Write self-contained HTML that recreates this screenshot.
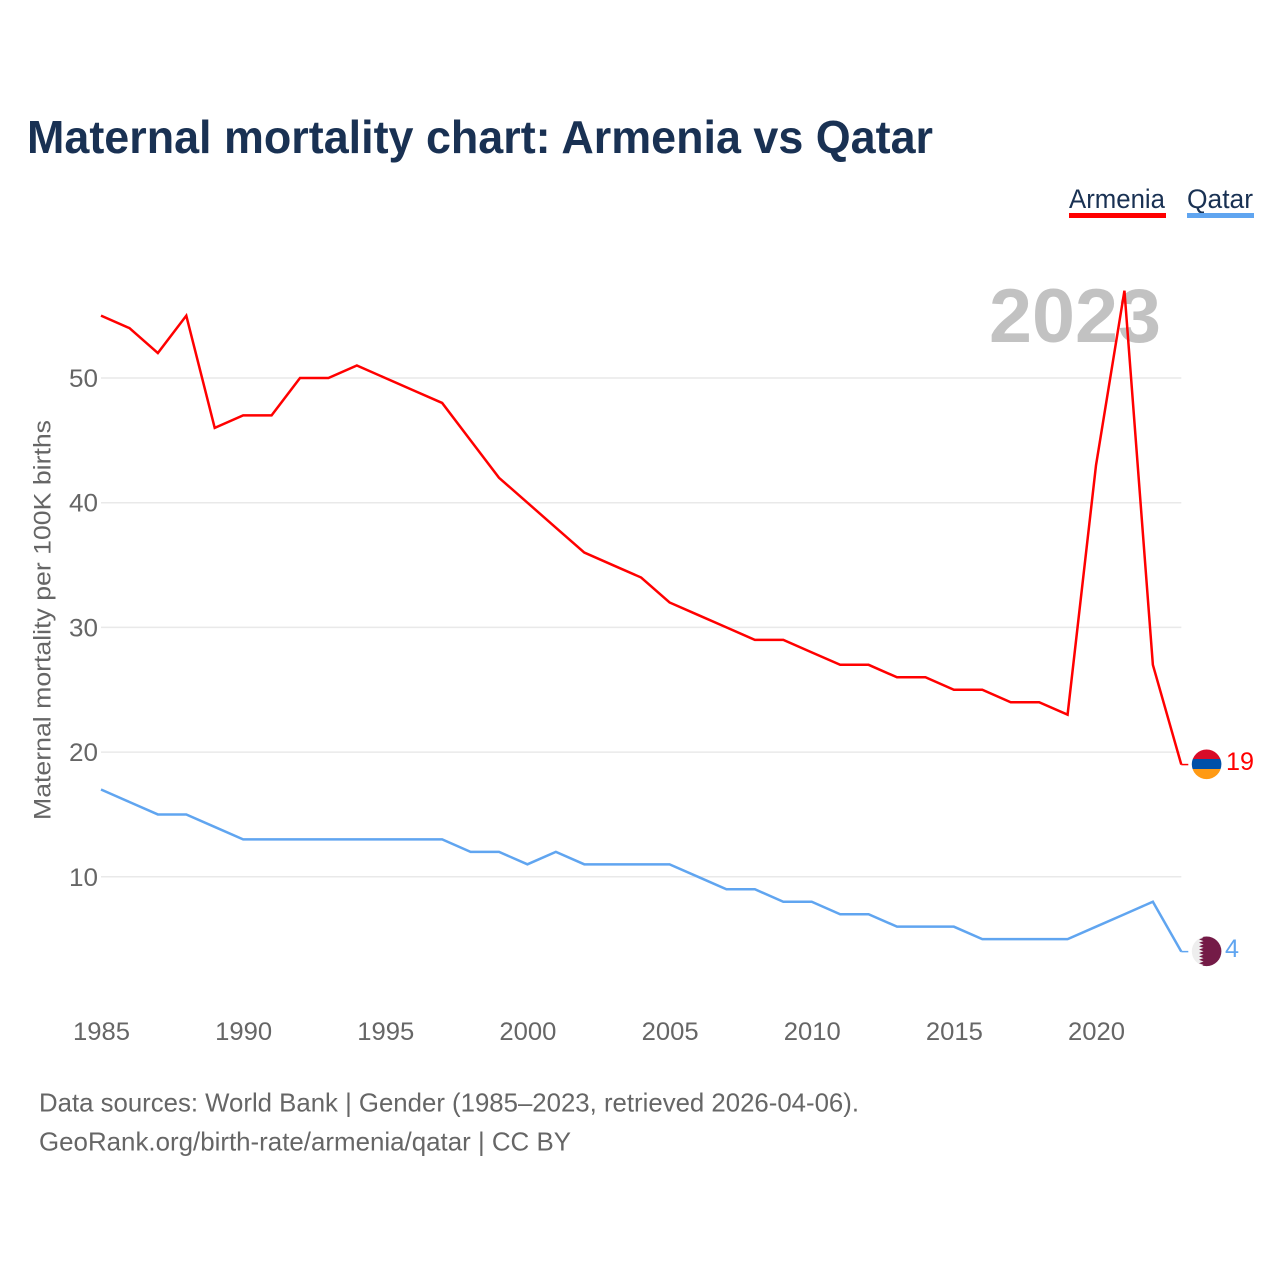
<!DOCTYPE html>
<html lang="en">
<head>
<meta charset="utf-8">
<title>Maternal mortality chart: Armenia vs Qatar</title>
<style>
html,body{margin:0;padding:0;background:#fff;width:1280px;height:1280px;overflow:hidden}
svg{display:block}
text{font-family:"Liberation Sans",sans-serif}
</style>
</head>
<body>
<svg id="chart" xmlns="http://www.w3.org/2000/svg" width="1280" height="1280" viewBox="0 0 1280 1280">
  <defs>
    <clipPath id="flag-clip-am"><circle cx="1206.6" cy="764.3" r="14.8"></circle></clipPath>
    <clipPath id="flag-clip-qa"><circle cx="1206.6" cy="951.3" r="14.8"></circle></clipPath>
  </defs>
  <text x="27" y="153" font-size="46" font-weight="700" fill="#193153" textLength="906" lengthAdjust="spacingAndGlyphs">Maternal mortality chart: Armenia vs Qatar</text>

  <g>
    <g>
      <text x="1069" y="208" font-size="27" fill="#193153" textLength="96" lengthAdjust="spacingAndGlyphs">Armenia</text>
      <rect x="1069" y="213" width="97" height="5" fill="#ff0000"></rect>
    </g>
    <g>
      <text x="1187" y="208" font-size="27" fill="#193153" textLength="66" lengthAdjust="spacingAndGlyphs">Qatar</text>
      <rect x="1187" y="213" width="67" height="5" fill="#60a5f0"></rect>
    </g>
  </g>

  <text x="989" y="342" font-size="76" font-weight="700" fill="#c2c2c2" textLength="172" lengthAdjust="spacingAndGlyphs">2023</text>

  <g id="grid"></g>
  <g id="y-axis"></g>
  <g id="x-axis"></g>
  <text transform="translate(50.5 820) rotate(-90)" font-size="24.5" fill="#666666" textLength="400" lengthAdjust="spacingAndGlyphs">Maternal mortality per 100K births</text>
  <g id="series"></g>

  <g clip-path="url(#flag-clip-am)">
    <rect x="1191" y="749" width="31" height="10" fill="#d90c28"></rect>
    <rect x="1191" y="759" width="31" height="10" fill="#0050a8"></rect>
    <rect x="1191" y="769" width="31" height="11" fill="#ff9a14"></rect>
  </g>
  <g clip-path="url(#flag-clip-qa)">
    <rect x="1191" y="936" width="31" height="31" fill="#eeeeee"></rect>
    <polygon fill="#741b47" points="1222,936 1199,936 1203.5,937.7 1199,939.4 1203.5,941.1 1199,942.8 1203.5,944.5 1199,946.2 1203.5,947.9 1199,949.6 1203.5,951.3 1199,953 1203.5,954.7 1199,956.4 1203.5,958.1 1199,959.8 1203.5,961.5 1199,963.2 1203.5,964.9 1199,967 1222,967"></polygon>
  </g>

  <text x="1226" y="770" font-size="25" fill="#ff0000" textLength="28" lengthAdjust="spacingAndGlyphs">19</text>
  <text x="1225" y="957" font-size="25" fill="#60a5f0" textLength="14" lengthAdjust="spacingAndGlyphs">4</text>

  <text x="39" y="1111.5" font-size="26" fill="#666666" textLength="820" lengthAdjust="spacingAndGlyphs">Data sources: World Bank | Gender (1985–2023, retrieved 2026-04-06).</text>
  <text x="39" y="1150.5" font-size="26" fill="#666666" textLength="532" lengthAdjust="spacingAndGlyphs">GeoRank.org/birth-rate/armenia/qatar | CC BY</text>
</svg>
<script>
const years = [1985,1986,1987,1988,1989,1990,1991,1992,1993,1994,1995,1996,1997,1998,1999,2000,2001,2002,2003,2004,2005,2006,2007,2008,2009,2010,2011,2012,2013,2014,2015,2016,2017,2018,2019,2020,2021,2022,2023];
const armeniaValues = [55,54,52,55,46,47,47,50,50,51,50,49,48,45,42,40,38,36,35,34,32,31,30,29,29,28,27,27,26,26,25,25,24,24,23,43,57,27,19];
const qatarValues = [17,16,15,15,14,13,13,13,13,13,13,13,13,12,12,11,12,11,11,11,11,10,9,9,8,8,7,7,6,6,6,5,5,5,5,6,7,8,4];
const yTicks = [10,20,30,40,50];
const xTicks = [1985,1990,1995,2000,2005,2010,2015,2020];

const NS = 'http://www.w3.org/2000/svg';
const xLeft = 101, xRight = 1181.3, yearMin = 1985, yearMax = 2023;
const y10 = 876.8, y50 = 378;
function xScale(year){ return xLeft + (year - yearMin) * (xRight - xLeft) / (yearMax - yearMin); }
function yScale(v){ return y10 + (v - 10) * (y50 - y10) / 40; }

const grid = document.getElementById('grid');
const yAxis = document.getElementById('y-axis');
const xAxis = document.getElementById('x-axis');
const series = document.getElementById('series');

yTicks.forEach(function(t){
  const line = document.createElementNS(NS, 'line');
  
  
  line.setAttribute('x1', xLeft);
  line.setAttribute('x2', xRight);
  line.setAttribute('y1', yScale(t));
  line.setAttribute('y2', yScale(t));
  line.setAttribute('stroke', '#e9e9e9');
  line.setAttribute('stroke-width', '1.5');
  grid.appendChild(line);

  const label = document.createElementNS(NS, 'text');
  
  
  label.setAttribute('x', 69);
  label.setAttribute('y', yScale(t) + 9);
  label.setAttribute('font-size', '25');
  label.setAttribute('fill', '#666666');
  label.setAttribute('textLength', '29');
  label.setAttribute('lengthAdjust', 'spacingAndGlyphs');
  label.textContent = t;
  yAxis.appendChild(label);
});

xTicks.forEach(function(t){
  const label = document.createElementNS(NS, 'text');
  
  
  label.setAttribute('x', xScale(t) - 28);
  label.setAttribute('y', 1040);
  label.setAttribute('font-size', '25');
  label.setAttribute('fill', '#666666');
  label.setAttribute('textLength', '57');
  label.setAttribute('lengthAdjust', 'spacingAndGlyphs');
  label.textContent = t;
  xAxis.appendChild(label);
});

function pointsFor(values){
  return values.map(function(v, i){ return xScale(years[i]).toFixed(2) + ',' + yScale(v).toFixed(2); }).join(' ');
}

const armeniaLine = document.createElementNS(NS, 'polyline');


armeniaLine.setAttribute('points', pointsFor(armeniaValues));
armeniaLine.setAttribute('fill', 'none');
armeniaLine.setAttribute('stroke', '#ff0000');
armeniaLine.setAttribute('stroke-width', '2.5');
series.appendChild(armeniaLine);

const qatarLine = document.createElementNS(NS, 'polyline');


qatarLine.setAttribute('points', pointsFor(qatarValues));
qatarLine.setAttribute('fill', 'none');
qatarLine.setAttribute('stroke', '#60a5f0');
qatarLine.setAttribute('stroke-width', '2.5');
series.appendChild(qatarLine);

const armeniaConnector = document.createElementNS(NS, 'line');


armeniaConnector.setAttribute('x1', xRight);
armeniaConnector.setAttribute('x2', xRight + 7);
armeniaConnector.setAttribute('y1', yScale(armeniaValues[armeniaValues.length - 1]));
armeniaConnector.setAttribute('y2', yScale(armeniaValues[armeniaValues.length - 1]));
armeniaConnector.setAttribute('stroke', '#ff0000');
armeniaConnector.setAttribute('stroke-width', '1.5');
series.appendChild(armeniaConnector);

const qatarConnector = document.createElementNS(NS, 'line');


qatarConnector.setAttribute('x1', xRight);
qatarConnector.setAttribute('x2', xRight + 7);
qatarConnector.setAttribute('y1', yScale(qatarValues[qatarValues.length - 1]));
qatarConnector.setAttribute('y2', yScale(qatarValues[qatarValues.length - 1]));
qatarConnector.setAttribute('stroke', '#60a5f0');
qatarConnector.setAttribute('stroke-width', '1.5');
series.appendChild(qatarConnector);
</script>
</body>
</html>
